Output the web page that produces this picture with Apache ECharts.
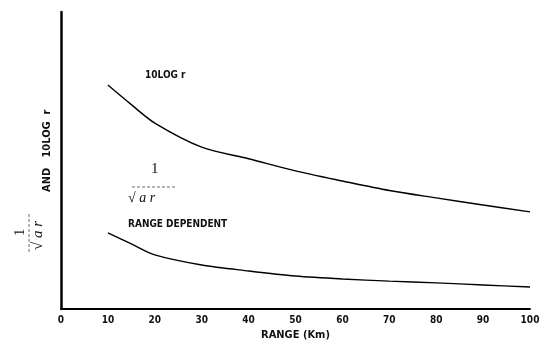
<!DOCTYPE html>
<html>
<head>
<meta charset="utf-8">
<script src="https://cdn.jsdelivr.net/npm/echarts@6/dist/echarts.min.js"></script>
<style>
  html, body { margin: 0; padding: 0; background: #fff; }
  #chart { width: 551px; height: 346px; }
</style>
</head>
<body>
<div id="chart"></div>
<script>
// range in km
const rangeKm = [10, 15, 20, 30, 40, 50, 60, 70, 80, 90, 100];
// 10 log r curve (arbitrary relative units)
const logCurve = [75.4, 68.8, 62.6, 54.5, 50.6, 46.5, 43.1, 39.9, 37.4, 35.0, 32.7];
// 1 / sqrt(a r) range dependent curve
const rangeDependent = [25.6, 21.9, 18.2, 14.8, 12.8, 11.1, 10.1, 9.4, 8.8, 8.1, 7.4];
const xTicks = [0, 10, 20, 30, 40, 50, 60, 70, 80, 90, 100];

const chart = echarts.init(document.getElementById('chart'));

const labelFont = '"Liberation Sans Narrow", "DejaVu Sans Condensed", sans-serif';

const option = {
  backgroundColor: '#fff',
  animation: false,
  grid: {
    left: 61,
    right: 21,
    top: 12,
    bottom: 37,
  },
  xAxis: {
    type: 'value',
    min: 0,
    max: 100,
    interval: 10,
    name: 'RANGE (Km)',
    nameLocation: 'middle',
    nameGap: 17,
    nameTextStyle: {
      color: '#111',
      fontSize: 11,
      fontWeight: 'bold',
      fontFamily: labelFont,
    },
    axisLine: { lineStyle: { color: '#000', width: 2 } },
    axisTick: { show: false },
    splitLine: { show: false },
    axisLabel: {
      color: '#111',
      fontSize: 10,
      fontWeight: 'bold',
      fontFamily: labelFont,
      margin: 6,
      formatter: (v) => (xTicks.includes(v) ? String(v) : ''),
    },
  },
  yAxis: {
    type: 'value',
    min: 0,
    max: 100,
    axisLine: { show: true, lineStyle: { color: '#000', width: 2.5 } },
    axisTick: { show: false },
    axisLabel: { show: false },
    splitLine: { show: false },
  },
  series: [
    {
      name: '10 log r',
      type: 'line',
      data: rangeKm.map((r, i) => [r, logCurve[i]]),
      showSymbol: false,
      smooth: 0.3,
      lineStyle: { color: '#000', width: 1.4 },
    },
    {
      name: 'range dependent',
      type: 'line',
      data: rangeKm.map((r, i) => [r, rangeDependent[i]]),
      showSymbol: false,
      smooth: 0.3,
      lineStyle: { color: '#000', width: 1.4 },
    },
  ],
  graphic: [
    // curve labels
    {
      type: 'text',
      left: 145,
      top: 70,
      style: {
        text: '10LOG r',
        fontSize: 10,
        fontWeight: 'bold',
        fontFamily: labelFont,
        fill: '#111',
      },
    },
    {
      type: 'text',
      left: 151,
      top: 162,
      style: {
        text: '1',
        fontSize: 15,
        fontFamily: '"Liberation Serif", serif',
        fill: '#111',
      },
    },
    {
      type: 'line',
      shape: { x1: 132, y1: 187, x2: 175, y2: 187 },
      style: { stroke: '#444', lineWidth: 0.8, lineDash: [3, 2] },
    },
    {
      type: 'text',
      left: 128,
      top: 191,
      style: {
        text: '\u221A a r',
        fontSize: 14,
        fontStyle: 'italic',
        fontFamily: '"Liberation Serif", serif',
        fill: '#111',
      },
    },
    {
      type: 'text',
      left: 128,
      top: 219,
      style: {
        text: 'RANGE DEPENDENT',
        fontSize: 10,
        fontWeight: 'bold',
        fontFamily: labelFont,
        fill: '#111',
      },
    },
    // y axis title, rotated
    {
      type: 'text',
      x: 42,
      y: 192,
      rotation: Math.PI / 2,
      style: {
        text: 'AND   10LOG  r',
        fontSize: 11,
        fontWeight: 'bold',
        fontFamily: labelFont,
        fill: '#111',
      },
    },
    {
      type: 'group',
      x: 13,
      y: 252,
      rotation: Math.PI / 2,
      children: [
        {
          type: 'text',
          x: 16,
          y: 0,
          style: {
            text: '1',
            fontSize: 15,
            fontFamily: '"Liberation Serif", serif',
            fill: '#111',
          },
        },
        {
          type: 'line',
          shape: { x1: 0, y1: 16, x2: 40, y2: 16 },
          style: { stroke: '#444', lineWidth: 0.8, lineDash: [3, 2] },
        },
        {
          type: 'text',
          x: 2,
          y: 18,
          style: {
            text: '\u221A a r',
            fontSize: 15,
            fontStyle: 'italic',
            fontFamily: '"Liberation Serif", serif',
            fill: '#111',
          },
        },
      ],
    },
  ],
};

chart.setOption(option);
</script>
</body>
</html>
